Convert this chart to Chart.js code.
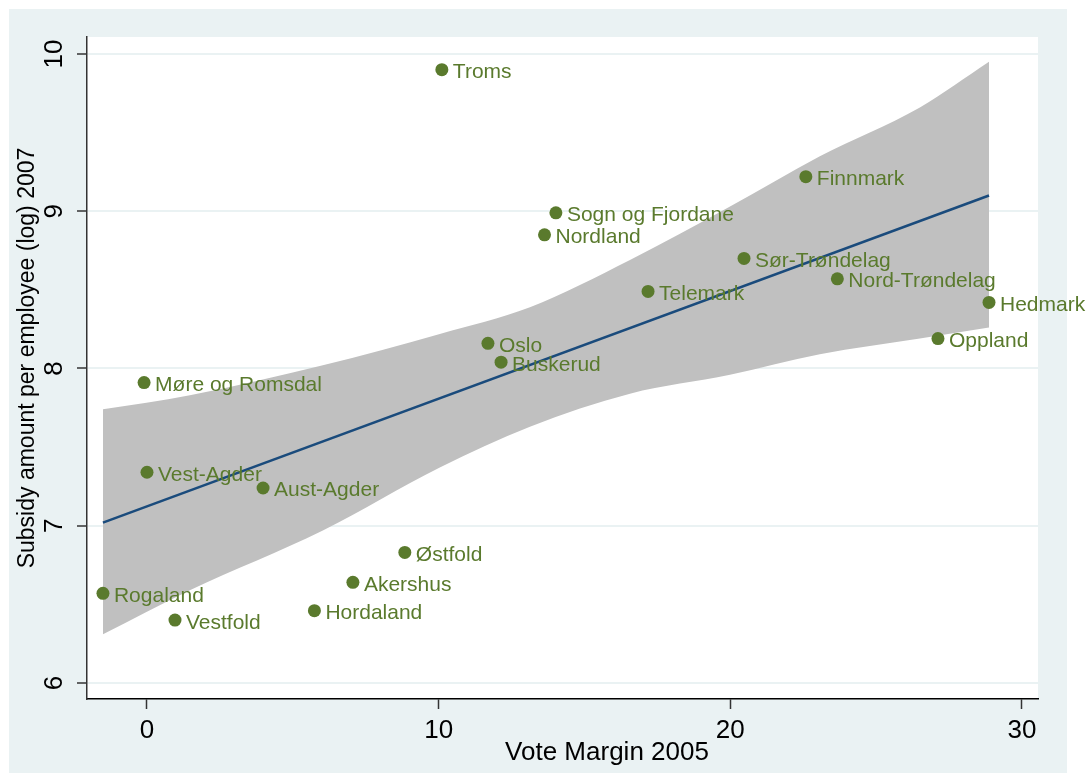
<!DOCTYPE html>
<html>
<head>
<meta charset="utf-8">
<script src="https://cdn.jsdelivr.net/npm/chart.js@4/dist/chart.umd.min.js"></script>
<style>
  body { margin: 0; background: #fff; }
  #chart { position: absolute; left: 0; top: 0; }
</style>
</head>
<body>
<canvas id="chart" width="1090" height="773"></canvas>
<script>
// Fylker: stemmemargin 2005 og subsidier per ansatt (log) 2007
const regions = ['Troms', 'Finnmark', 'Sogn og Fjordane', 'Nordland', 'Sør-Trøndelag', 'Nord-Trøndelag',
    'Telemark', 'Hedmark', 'Oppland', 'Oslo', 'Buskerud', 'Møre og Romsdal', 'Vest-Agder',
    'Aust-Agder', 'Østfold', 'Akershus', 'Hordaland', 'Rogaland', 'Vestfold'];
const voteMargin = [10.11, 22.59, 14.02, 13.63, 20.47, 23.67, 17.18, 28.87, 27.12, 11.69,
    12.14, -0.10, 0.0, 3.98, 8.84, 7.06, 5.74, -1.51, 0.96];
const subsidyLog = [9.90, 9.22, 8.99, 8.85, 8.70, 8.57, 8.49, 8.42, 8.19, 8.16,
    8.04, 7.91, 7.34, 7.24, 6.83, 6.64, 6.46, 6.57, 6.40];

// Lineær tilpasning med konfidensbånd
const fitX = [-1.51, 28.87];
const fitY = [7.02, 9.10];
const bandX = [-1.51, 1.47, 6.03, 10.04, 13.13, 16.56, 19.99, 23.07, 26.50, 28.87];
const bandUpper = [7.74, 7.83, 8.02, 8.22, 8.39, 8.69, 9.03, 9.35, 9.66, 9.95];
const bandLower = [6.31, 6.59, 6.97, 7.37, 7.63, 7.84, 7.96, 8.09, 8.19, 8.26];

const xTicks = [0, 10, 20, 30];
const yTicks = [6, 7, 8, 9, 10];

const FONT = "'Liberation Sans', Arial, sans-serif";
const GREEN = '#5A7A2D';

const pts = (xs, ys) => xs.map((x, i) => ({ x: x, y: ys[i] }));

const backgroundPlugin = {
    id: 'stataBackground',
    beforeDraw(chart) {
        const ctx = chart.ctx, a = chart.chartArea;
        ctx.save();
        ctx.fillStyle = '#EAF2F3';
        ctx.fillRect(9, 9, 1058, chart.height - 9);
        ctx.fillStyle = '#fff';
        ctx.fillRect(a.left, a.top, a.right - a.left, a.bottom - a.top);
        ctx.restore();
    }
};

const labelPlugin = {
    id: 'pointLabels',
    afterDatasetsDraw(chart) {
        const ctx = chart.ctx;
        const meta = chart.getDatasetMeta(0);
        ctx.save();
        ctx.font = '21px ' + FONT;
        ctx.fillStyle = GREEN;
        ctx.textAlign = 'left';
        ctx.textBaseline = 'alphabetic';
        meta.data.forEach((p, i) => {
            ctx.fillText(regions[i], p.x + 11, p.y + 8.5);
        });
        ctx.restore();
    },
    afterDraw(chart) {
        // aksetitler
        const ctx = chart.ctx;
        ctx.save();
        ctx.fillStyle = '#000';
        ctx.font = '26px ' + FONT;
        ctx.textAlign = 'center';
        ctx.textBaseline = 'alphabetic';
        ctx.fillText('Vote Margin 2005', 607, 760);
        ctx.translate(28, 358);
        ctx.rotate(-Math.PI / 2);
        ctx.font = '23px ' + FONT;
        ctx.textBaseline = 'middle';
        ctx.fillText('Subsidy amount per employee (log) 2007', 0, 0);
        ctx.restore();
    }
};

new Chart(document.getElementById('chart').getContext('2d'), {
    data: {
        datasets: [
            {
                type: 'scatter',
                data: pts(voteMargin, subsidyLog),
                backgroundColor: GREEN,
                borderWidth: 0,
                pointRadius: 6.5,
                order: 0
            },
            {
                type: 'line',
                data: pts(fitX, fitY),
                borderColor: '#1A4B7C',
                borderWidth: 2.5,
                pointRadius: 0,
                fill: false,
                order: 1
            },
            {
                type: 'line',
                data: pts(bandX, bandUpper),
                borderWidth: 0,
                pointRadius: 0,
                backgroundColor: '#C0C0C0',
                cubicInterpolationMode: 'monotone',
                fill: '+1',
                order: 2
            },
            {
                type: 'line',
                data: pts(bandX, bandLower),
                borderWidth: 0,
                pointRadius: 0,
                cubicInterpolationMode: 'monotone',
                fill: false,
                order: 3
            }
        ]
    },
    options: {
        responsive: false,
        animation: false,
        layout: { padding: { top: 37, right: 52, left: 9, bottom: 0 } },
        plugins: {
            legend: { display: false },
            tooltip: { enabled: false }
        },
        scales: {
            x: {
                type: 'linear',
                min: -2.057,
                max: 30.55,
                afterBuildTicks: s => { s.ticks = xTicks.map(v => ({ value: v })); },
                afterFit: s => { s.height = 74; },
                grid: { drawOnChartArea: false, tickLength: 10, tickColor: '#333', tickWidth: 1.5 },
                border: { display: true, color: '#000', width: 1.5 },
                ticks: { font: { size: 26, family: FONT }, color: '#000', padding: 6, maxRotation: 0 }
            },
            y: {
                type: 'linear',
                min: 5.898,
                max: 10.108,
                afterBuildTicks: s => { s.ticks = yTicks.map(v => ({ value: v })); },
                afterFit: s => { s.width = 78; },
                grid: { color: '#EAF2F3', lineWidth: 2, tickLength: 10, tickColor: '#333', tickWidth: 1.5 },
                border: { display: true, color: '#333', width: 1.5 },
                ticks: {
                    font: { size: 26, family: FONT }, color: '#000',
                    minRotation: 90, maxRotation: 90, crossAlign: 'center', padding: 8
                }
            }
        }
    },
    plugins: [backgroundPlugin, labelPlugin]
});
</script>
</body>
</html>
